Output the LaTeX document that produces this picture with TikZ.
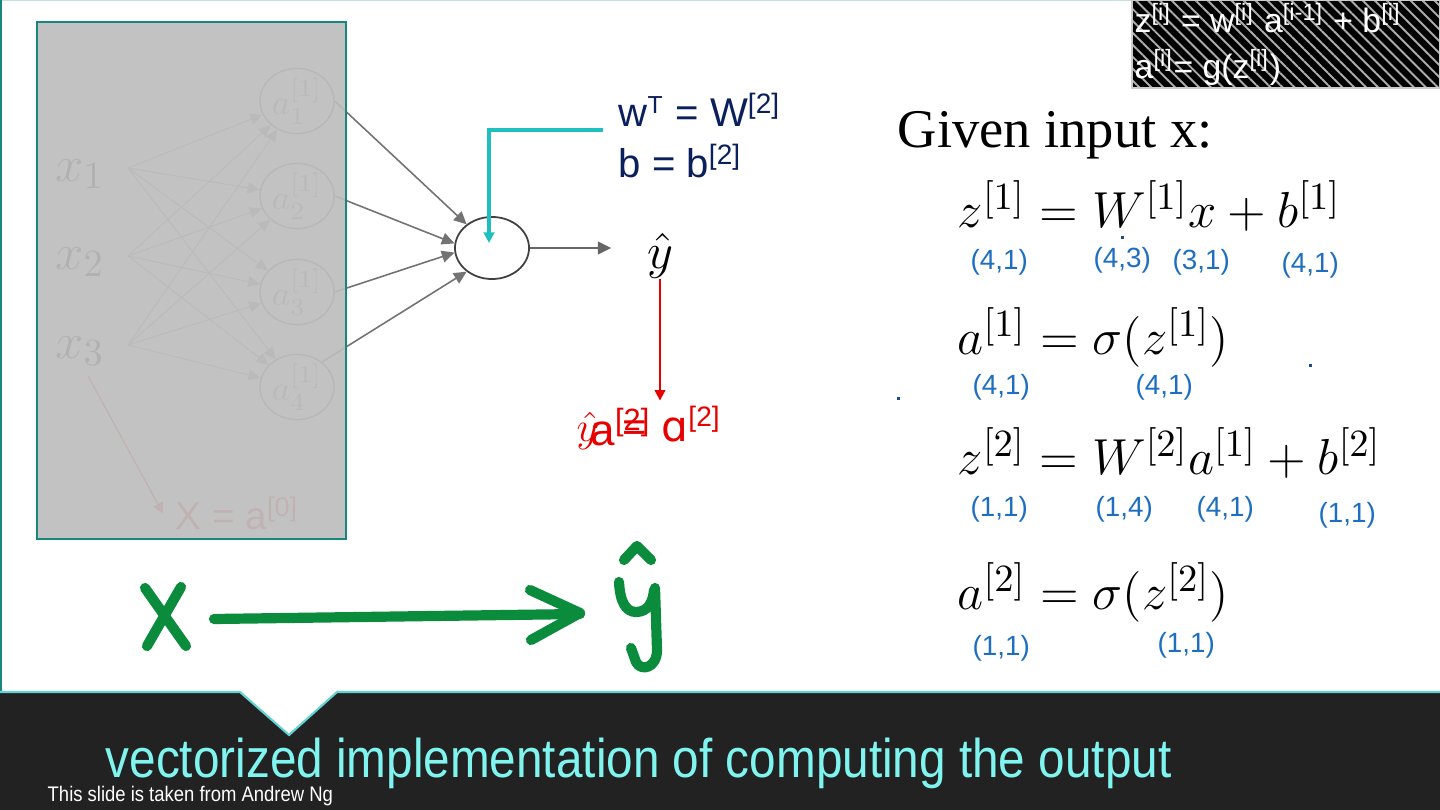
\documentclass[tikz,border=0pt]{standalone}
\usepackage{amsmath}
\usepackage{fontspec}
\setmainfont{Liberation Sans}
\newfontfamily\givenfont{Liberation Serif}
\newfontfamily\narrowsans[FakeStretch=0.875]{Liberation Sans}
\newfontfamily\symfont{DejaVu Sans}
\usetikzlibrary{shapes.geometric, arrows.meta, patterns.meta, calc}
\definecolor{Slide_Teal}{HTML}{17877D}
\definecolor{Slide_Cyan}{HTML}{1FBFC0}
\definecolor{Slide_Navy}{HTML}{0B1F5C}
\definecolor{Slide_Red}{HTML}{E60000}
\definecolor{Slide_Blue}{HTML}{1F6FC0}
\definecolor{Slide_Green}{HTML}{0A8C3C}
\definecolor{Slide_Dark}{HTML}{222222}
\definecolor{Slide_Title}{HTML}{80F5F0}
\definecolor{Veil_Gray}{HTML}{BDBDBD}

\tikzset{
    neuron/.style={ellipse, draw=black!75, line width=0.5pt, minimum width=0.74cm, minimum height=0.62cm, inner sep=0pt},
    hidden/.style={ellipse, draw=gray, line width=0.4pt, minimum width=0.74cm, minimum height=0.62cm, inner sep=0pt, text=gray!80, font=\fontsize{10}{10}\selectfont},
    inedge/.style={draw=gray!70, line width=0.3pt, -{Triangle[length=3.5pt,width=3.2pt]}},
    outedge/.style={draw=black!55, line width=0.45pt, -{Triangle[length=3.6pt,width=3.4pt]}},
    eqn/.style={anchor=base west, inner sep=0pt, font=\fontsize{15}{18}\selectfont},
    dims/.style={anchor=base west, inner sep=0pt, text=Slide_Blue, font=\fontsize{7.9}{9}\selectfont},
    hand/.style={Slide_Green, line width=2.9pt, line cap=round, line join=round}
}

\begin{document}
\begin{tikzpicture}[x=0.01cm, y=-0.01cm]
    \useasboundingbox (0,0) rectangle (1440,810);
    \fill[white] (0,0) rectangle (1440,810);

    % === Slide frame ===
    \draw[Slide_Teal!25, line width=0.5pt] (0,0.5) -- (1132,0.5);
    \draw[Slide_Teal, line width=0.6pt] (1,0) -- (1,692);

    % === Shallow network (to be veiled) ===
    \foreach \i/\y in {1/168, 2/256, 3/345} {
        \node[text=black!75, font=\fontsize{15}{15}\selectfont] (x\i) at (80,\y+6) {$x_\i$};
        \coordinate (in\i) at (128,\y);
    }
    \foreach \j/\y in {1/101, 2/196, 3/292, 4/387} {
        \node[hidden] (h\j) at (297,\y) {$a^{[1]}_\j$};
    }
    \foreach \i in {1,2,3} {
        \foreach \j in {1,...,4} {
            \draw[inedge] (in\i) -- (h\j);
        }
    }
    \node[anchor=base west, inner sep=0pt, text=Slide_Red!70, font=\fontsize{11}{11}\selectfont] (xin) at (175,530) {X = a\textsuperscript{[0]}};
    \draw[Slide_Red!70, line width=0.4pt, -{Triangle[length=3pt,width=3pt]}] (88,376) -- ([xshift=-0.12cm]xin.west);

    % === Output neuron ===
    \node[neuron] (out) at (492,248) {};
    \draw[outedge] (h1.east) -- (out.137);
    \draw[outedge] (h2.east) -- (out.173);
    \draw[outedge] (h3.east) -- (out.187);
    \draw[outedge] (h4.45) -- (out.223);

    % === Veil over the first layer ===
    \fill[Veil_Gray, opacity=0.91] (37,22) rectangle (346,539);
    \draw[Slide_Teal, line width=0.6pt] (37,22) rectangle (346,539);

    % === Prediction ===
    \node[inner sep=0pt, font=\fontsize{15}{15}\selectfont] (yhat) at (660,256) {$\hat{y}$};
    \draw[black!60, line width=0.5pt, -{Triangle[length=3.8pt,width=3.6pt]}] (out.east) -- ([xshift=-0.35cm]yhat.west |- out.east);

    % === Second layer parameters ===
    \node[anchor=base west, inner sep=0pt, text=Slide_Navy, font=\fontsize{11.4}{12}\selectfont] (wlab) at (618,127) {w\textsuperscript{\scriptsize T} = W\textsuperscript{[2]}};
    \node[anchor=base west, inner sep=0pt, text=Slide_Navy, font=\fontsize{11.4}{12}\selectfont] (blab) at (618,178) {b = b\textsuperscript{[2]}};
    \coordinate (wfoot) at (603,130);
    \draw[Slide_Cyan, line width=0.9pt, -{Triangle[length=3pt,width=3pt]}] (wfoot) -| ([xshift=-0.03cm, yshift=0.05cm]out.center);

    % === Red note ===
    \node[anchor=base west, inner sep=0pt, text=Slide_Red, font=\fontsize{12}{12}\selectfont] (redeq) at (576,442) {$\hat{y}$\hspace{7pt}=\hspace{4pt}{\symfont ɑ}\textsuperscript{[2]}};
    \node[anchor=base west, inner sep=0pt, text=Slide_Red, font=\fontsize{12.5}{12}\selectfont] (reda) at (590,446) {a\textsuperscript{[2]}};
    \draw[Slide_Red, line width=0.6pt, -{Triangle[length=3pt,width=3pt]}] (yhat.south) -- ([yshift=0.05cm]yhat.south |- redeq.north);

    % === Formula box ===
    \begin{scope}
        \clip (1132,0) rectangle (1440,88);
        \fill[black] (1132,0) rectangle (1440,88);
        \pattern[pattern={Lines[angle=-45, distance=2.4pt, line width=0.55pt]}, pattern color=gray!65] (1132,0) rectangle (1440,88);
    \end{scope}
    \draw[gray!40, line width=0.4pt] (1132,0) rectangle (1440,88);
    \node[anchor=base west, inner sep=0pt, text=white, font=\fontsize{9.6}{12}\selectfont] (rule1) at (1134,33) {z\textsuperscript{[i]} = w\textsuperscript{[i]} a\textsuperscript{[i-1]} + b\textsuperscript{[i]}};
    \node[anchor=base west, inner sep=0pt, text=white, font=\fontsize{9.6}{12}\selectfont] (rule2) at (1134,79) {a\textsuperscript{[i]}= g(z\textsuperscript{[i]})};

    % === Forward pass ===
    \node[anchor=base west, inner sep=0pt, font=\givenfont\fontsize{15.5}{18}\selectfont] (given) at (897,148) {Given input x:};
    \node[eqn] (eq1) at (957,228) {$z^{[1]} = W^{[1]}x + b^{[1]}$};
    \node[eqn] (eq2) at (957,355) {$a^{[1]} = \sigma(z^{[1]})$};
    \node[eqn] (eq3) at (957,475) {$z^{[2]} = W^{[2]}a^{[1]} + b^{[2]}$};
    \node[eqn] (eq4) at (957,610) {$a^{[2]} = \sigma(z^{[2]})$};
    \foreach \name/\x/\y/\txt in {d11/970/270/{(4,1)}, d12/1093/268/{(4,3)}, d13/1172/270/{(3,1)}, d14/1281/273/{(4,1)},
                                  d21/972/395/{(4,1)}, d22/1135/395/{(4,1)},
                                  d31/970/517/{(1,1)}, d32/1095/517/{(1,4)}, d33/1196/517/{(4,1)}, d34/1318/522/{(1,1)},
                                  d41/972/655/{(1,1)}, d42/1157/652/{(1,1)}} {
        \node[dims] (\name) at (\x,\y) {\txt};
    }
    \foreach \x/\y in {1122/238, 1310/366, 898/399} {
        \fill[Slide_Blue!70!black] (\x-1.5,\y-1.5) rectangle (\x+1.5,\y+1.5);
    }

    % === Hand-drawn summary ===
    \draw[hand] (145,588) -- (186,646);
    \draw[hand] (181,587) -- (147,646);
    \draw[hand] (214,619) -- (580,614);
    \draw[hand] (530,590) -- (580,613) -- (531,640);
    \draw[hand] (624,560) -- (637,546) -- (651,560);
    \draw[hand] (619,582) .. controls (620,602) and (626,612) .. (636,612) .. controls (648,612) and (653,602) .. (654,590);
    \draw[hand] (655,588) -- (657,650) .. controls (657,668) and (641,672) .. (636,662) -- (631,648);

    % === Caption band ===
    \fill[Slide_Dark] (0,692) -- (240,692) -- (289,735) -- (337,692) -- (1440,692) -- (1440,810) -- (0,810) -- cycle;
    \draw[Slide_Cyan!70, line width=0.6pt] (0,692) -- (240,692) -- (289,735) -- (337,692) -- (1440,692);
    \node[anchor=base west, inner sep=0pt, text=Slide_Title, font=\narrowsans\fontsize{15.5}{16}\selectfont] (title) at (105,777) {vectorized implementation of computing the output};
    \node[anchor=base west, inner sep=0pt, text=white, font=\narrowsans\fontsize{6}{6}\selectfont] (credit) at (47,801) {This slide is taken from Andrew Ng};

\end{tikzpicture}
\end{document}
